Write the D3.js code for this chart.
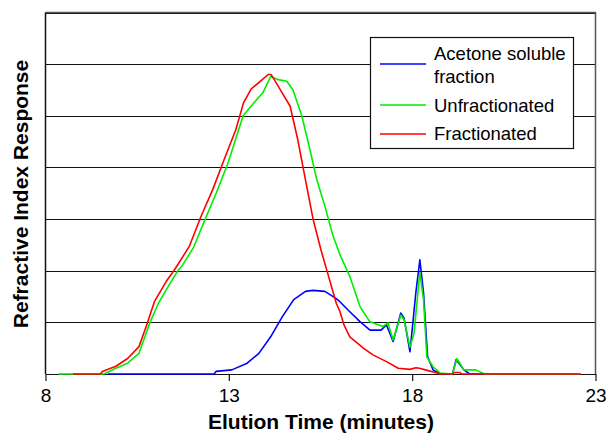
<!DOCTYPE html>
<html>
<head>
<meta charset="utf-8">
<script src="https://cdn.jsdelivr.net/npm/d3@7"></script>
<style>
  body { margin: 0; background: #fff; }
  svg { display: block; font-family: "Liberation Sans", Arial, sans-serif; }
</style>
</head>
<body>
<div id="chart"></div>
<script>
// Elution time (minutes) vs refractive index response (gridline units)
const acetoneSoluble = [
  [9.7, 0], [12.6, 0], [12.65, 0.05], [13.08, 0.08], [13.5, 0.21], [13.82, 0.4],
  [14.14, 0.72], [14.46, 1.11], [14.77, 1.44], [15.09, 1.6], [15.3, 1.62], [15.62, 1.6],
  [15.93, 1.46], [16.03, 1.4], [16.25, 1.24], [16.57, 1.02], [16.85, 0.85], [17.15, 0.85],
  [17.3, 0.95], [17.48, 0.63], [17.69, 1.18], [17.78, 1.08], [17.94, 0.43], [18.1, 1.57],
  [18.21, 2.21], [18.31, 1.57], [18.42, 0.34], [18.57, 0.08], [18.74, 0.01], [19.1, 0],
  [19.2, 0.28], [19.41, 0.08], [19.57, 0], [22.5, 0]
];

const unfractionated = [
  [8.35, 0], [9.6, 0], [9.92, 0.11], [10.24, 0.21], [10.55, 0.4], [10.85, 1.0],
  [11.08, 1.37], [11.4, 1.76], [11.61, 2.0], [11.71, 2.08], [12.03, 2.44], [12.35, 2.99],
  [12.66, 3.51], [12.98, 4.09], [13.39, 5.0], [13.61, 5.19], [13.93, 5.45], [14.14, 5.76],
  [14.35, 5.7], [14.58, 5.67], [14.75, 5.5], [14.99, 5.0], [15.19, 4.41], [15.4, 3.76],
  [15.62, 3.25], [15.83, 2.7], [16.03, 2.31], [16.3, 1.89], [16.58, 1.3], [16.85, 1.01],
  [17.2, 0.92], [17.34, 0.99], [17.48, 0.66], [17.69, 1.14], [17.78, 1.05], [17.94, 0.52],
  [18.05, 0.79], [18.21, 1.96], [18.31, 1.44], [18.4, 0.33], [18.57, 0.14], [18.76, 0.02],
  [19.1, 0], [19.22, 0.3], [19.41, 0.08], [19.73, 0.08], [19.98, 0], [22.6, 0]
];

const fractionated = [
  [8.75, 0], [9.5, 0], [9.55, 0.05], [9.92, 0.15], [10.24, 0.3], [10.55, 0.53],
  [10.76, 0.95], [10.97, 1.4], [11.29, 1.79], [11.5, 2.0], [11.61, 2.12], [11.92, 2.47],
  [12.24, 3.05], [12.56, 3.57], [12.87, 4.15], [13.19, 4.73], [13.4, 5.25], [13.61, 5.52],
  [13.85, 5.66], [14.07, 5.8], [14.15, 5.8], [14.24, 5.7], [14.45, 5.45], [14.67, 5.19],
  [14.88, 4.54], [15.09, 3.76], [15.3, 2.99], [15.51, 2.41], [15.72, 1.89], [15.93, 1.37],
  [16.03, 1.21], [16.14, 0.95], [16.3, 0.72], [16.67, 0.5], [16.93, 0.37], [17.3, 0.24],
  [17.62, 0.11], [17.94, 0.09], [18.1, 0.12], [18.2, 0.11], [18.36, 0.08], [18.68, 0.02],
  [18.75, 0], [19.1, 0], [19.15, 0.03], [19.3, 0.03], [19.35, 0], [22.6, 0]
];

const xTicks = [8, 13, 18, 23];
const seriesNames = ["Acetone soluble fraction", "Unfractionated", "Fractionated"];
const seriesColors = ["#0000ff", "#00ee00", "#ff0000"];

const W = 607, H = 434;
const margin = { left: 45.5, right: 11.5, top: 12.5, bottom: 60 };

const svg = d3.select("#chart").append("svg")
  .attr("width", W).attr("height", H);

const x = d3.scaleLinear().domain([8, 23]).range([margin.left, W - margin.right]);
const y = d3.scaleLinear().domain([0, 7]).range([374, margin.top]);

// gridlines
const grid = svg.append("g")
  .attr("transform", `translate(${margin.left},0)`)
  .call(d3.axisLeft(y).ticks(7).tickSize(-(x.range()[1] - x.range()[0])).tickFormat(""));
grid.select(".domain").remove();
grid.selectAll("line").attr("stroke", "#111").attr("shape-rendering", "crispEdges");

// top and right frame
svg.append("path")
  .attr("d", `M${x(8)},${y(7)}H${x(23)}V${y(0)}`)
  .attr("fill", "none").attr("stroke", "#555").attr("stroke-width", 1.5);

// left axis line
svg.append("line")
  .attr("x1", x(8)).attr("x2", x(8)).attr("y1", y(7)).attr("y2", y(0))
  .attr("stroke", "#111").attr("stroke-width", 1.5);

// bottom axis
const xAxis = svg.append("g")
  .attr("transform", `translate(0,${y(0)})`)
  .call(d3.axisBottom(x).tickValues(xTicks).tickSize(7).tickSizeOuter(0).tickPadding(8));
xAxis.select(".domain").attr("stroke", "#111").attr("stroke-width", 1.2);
xAxis.selectAll(".tick line").attr("stroke", "#111").attr("stroke-width", 1.2);
xAxis.selectAll("text").attr("font-size", 19).attr("fill", "#000")
  .attr("font-family", "Liberation Sans, Arial, sans-serif");

// curves
const line = d3.line().x(d => x(d[0])).y(d => y(d[1]));
[acetoneSoluble, unfractionated, fractionated].forEach((data, i) => {
  svg.append("path")
    .datum(data)
    .attr("d", line)
    .attr("fill", "none")
    .attr("stroke", seriesColors[i])
    .attr("stroke-width", 1.6)
    .attr("stroke-linejoin", "round");
});

// legend
const legend = svg.append("g");
legend.append("rect")
  .attr("x", 370.5).attr("y", 37.5).attr("width", 203).attr("height", 111)
  .attr("fill", "#fff").attr("stroke", "#111").attr("stroke-width", 1.2);

const legendRows = [
  { lineY: 64, text: ["Acetone soluble", "fraction"], textY: [60, 83] },
  { lineY: 105, text: ["Unfractionated"], textY: [112] },
  { lineY: 134, text: ["Fractionated"], textY: [140] }
];
legendRows.forEach((r, i) => {
  legend.append("line")
    .attr("x1", 380).attr("x2", 426).attr("y1", r.lineY).attr("y2", r.lineY)
    .attr("stroke", seriesColors[i]).attr("stroke-width", 1.5);
  r.text.forEach((t, j) => {
    legend.append("text")
      .attr("x", 434).attr("y", r.textY[j])
      .attr("font-size", 18.5).attr("fill", "#000")
      .text(t);
  });
});

// axis titles
svg.append("text")
  .attr("x", 321).attr("y", 429)
  .attr("text-anchor", "middle")
  .attr("font-size", 21).attr("font-weight", "bold")
  .text("Elution Time (minutes)");

svg.append("text")
  .attr("transform", "translate(28,194) rotate(-90)")
  .attr("text-anchor", "middle")
  .attr("font-size", 21).attr("font-weight", "bold")
  .text("Refractive Index Response");
</script>
</body>
</html>
